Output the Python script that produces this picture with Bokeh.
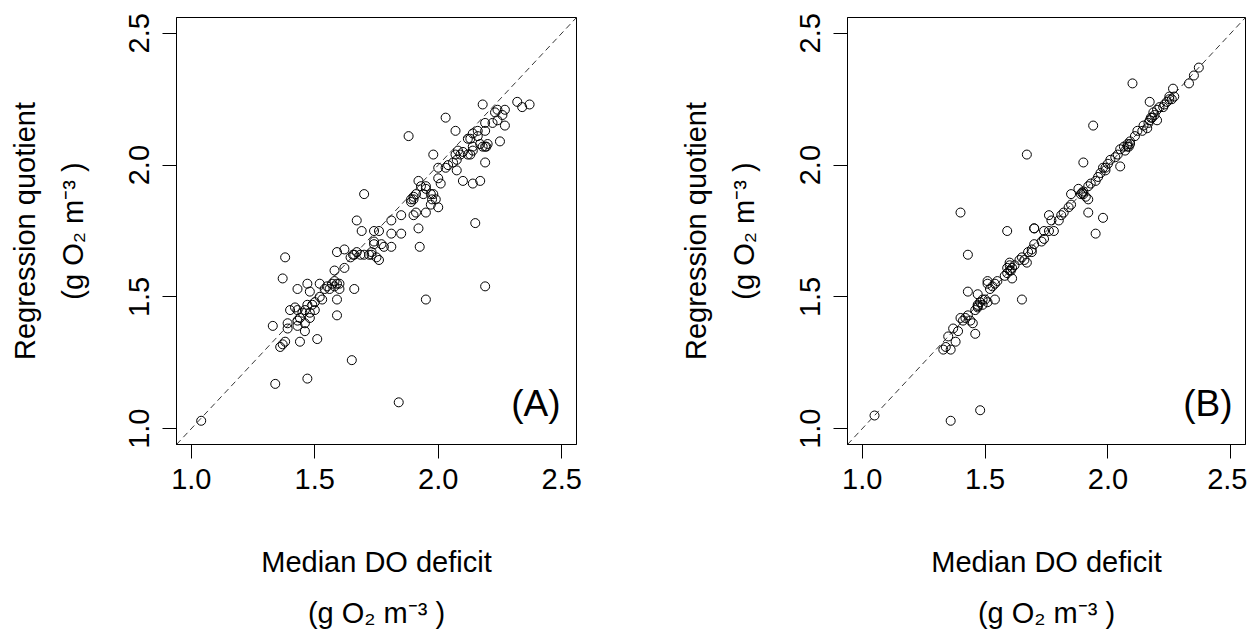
import math
from bokeh.plotting import figure
from bokeh.models import Range1d, FixedTicker, PrintfTickFormatter, Slope, Label
from bokeh.layouts import row
from bokeh.embed import file_html
from bokeh.resources import INLINE

# ---------------- data ----------------
TICKS = [1.0, 1.5, 2.0, 2.5]

A_x = [1.04, 1.34, 1.47, 1.65, 1.84, 1.95, 2.19, 2.15, 1.38, 1.37,
       1.33, 1.37, 1.38, 1.36, 1.39, 1.39, 1.43, 1.44, 1.46, 1.51,
       1.40, 1.43, 1.44, 1.43, 1.47, 1.48, 1.46, 1.45, 1.50, 1.50,
       1.53, 1.54, 1.55, 1.43, 1.47, 1.48, 1.52, 1.58, 1.59, 1.58,
       1.60, 1.59, 1.59, 1.66, 1.58, 1.62, 1.59, 1.62, 1.645, 1.66,
       1.67, 1.685, 1.70, 1.73, 1.75, 1.74, 1.46, 1.49, 1.52, 1.56,
       1.57, 1.60, 1.42, 1.48, 1.70, 1.67, 1.69, 1.74, 1.76, 1.81,
       1.85, 1.81, 1.81, 1.78, 1.77, 1.74, 1.73, 1.76, 1.72, 1.92,
       1.925, 1.85, 1.90, 1.91, 1.97, 2.00, 1.95, 1.90, 1.89, 1.91,
       1.89, 1.94, 1.92, 1.93, 1.95, 1.95, 1.97, 1.98, 1.99, 1.975,
       1.88, 2.03, 1.98, 2.00, 2.03, 2.04, 2.06, 2.075, 2.00, 2.01,
       2.10, 2.14, 2.17, 2.19, 2.08, 2.07, 2.075, 2.09, 2.10, 2.12,
       2.13, 2.14, 2.14, 2.17, 2.19, 2.18, 2.20, 2.25, 2.12, 2.13,
       2.16, 2.14, 2.16, 2.19, 2.07, 2.19, 2.22, 2.24, 2.27, 2.23,
       2.24, 2.26, 2.27, 2.18, 2.32, 2.34, 2.37, 1.90, 2.195, 1.655]
A_y = [1.03, 1.17, 1.19, 1.26, 1.10, 1.49, 1.54, 1.78, 1.65, 1.57,
       1.39, 1.32, 1.33, 1.31, 1.38, 1.40, 1.39, 1.33, 1.37, 1.34,
       1.45, 1.45, 1.42, 1.41, 1.47, 1.42, 1.40, 1.44, 1.48, 1.45,
       1.49, 1.53, 1.54, 1.53, 1.55, 1.52, 1.55, 1.56, 1.55, 1.54,
       1.53, 1.49, 1.43, 1.53, 1.60, 1.61, 1.67, 1.68, 1.65, 1.66,
       1.67, 1.66, 1.66, 1.66, 1.65, 1.70, 1.45, 1.47, 1.50, 1.53,
       1.55, 1.55, 1.46, 1.44, 1.89, 1.79, 1.75, 1.75, 1.75, 1.79,
       1.74, 1.74, 1.69, 1.69, 1.70, 1.71, 1.67, 1.64, 1.66, 1.76,
       1.69, 1.81, 1.81, 1.82, 1.85, 1.84, 1.82, 1.88, 1.87, 1.89,
       1.86, 1.89, 1.94, 1.92, 1.92, 1.91, 1.89, 1.89, 1.87, 1.87,
       2.11, 2.18, 2.04, 1.99, 1.99, 2.00, 2.01, 1.98, 1.95, 1.93,
       1.94, 1.93, 1.94, 2.01, 2.055, 2.04, 2.02, 2.04, 2.05, 2.04,
       2.04, 2.07, 2.055, 2.08, 2.07, 2.07, 2.08, 2.09, 2.10, 2.10,
       2.13, 2.12, 2.11, 2.13, 2.13, 2.16, 2.16, 2.17, 2.15, 2.20,
       2.21, 2.19, 2.21, 2.23, 2.24, 2.22, 2.23, 1.87, 2.07, 1.66]

B_x = [1.05, 1.36, 1.48, 1.40, 1.43, 1.65, 1.33, 1.36, 1.38, 1.35,
       1.37, 1.39, 1.46, 1.41, 1.42, 1.44, 1.43, 1.45, 1.40, 1.46,
       1.47, 1.47, 1.48, 1.49, 1.50, 1.51, 1.49, 1.43, 1.47, 1.51,
       1.51, 1.53, 1.54, 1.54, 1.52, 1.55, 1.58, 1.59, 1.60, 1.59,
       1.60, 1.61, 1.60, 1.61, 1.62, 1.64, 1.65, 1.66, 1.67, 1.69,
       1.70, 1.73, 1.70, 1.59, 1.675, 1.69, 1.74, 1.74, 1.76, 1.78,
       1.77, 1.76, 1.80, 1.81, 1.82, 1.84, 1.85, 1.88, 1.89, 1.90,
       1.90, 1.91, 1.92, 1.92, 1.93, 1.95, 1.96, 1.97, 1.98, 1.99,
       2.00, 2.01, 2.03, 2.04, 2.05, 2.07, 2.065, 2.08, 2.085, 2.08,
       2.09, 2.11, 2.12, 2.14, 2.16, 2.145, 2.165, 2.17, 2.20, 2.18,
       2.19, 2.185, 2.20, 2.225, 2.26, 2.24, 2.27, 2.25, 2.265, 2.33,
       2.35, 2.37, 1.85, 1.92, 1.98, 1.95, 1.90, 1.94, 2.10, 2.17,
       1.67, 1.70, 2.05, 1.47, 1.605, 1.895, 2.09, 2.175, 2.25, 1.99,
       2.23, 2.21, 1.34]
B_y = [1.05, 1.03, 1.07, 1.82, 1.66, 1.49, 1.30, 1.30, 1.33, 1.35,
       1.38, 1.37, 1.36, 1.41, 1.42, 1.41, 1.43, 1.40, 1.42, 1.45,
       1.47, 1.46, 1.48, 1.47, 1.49, 1.48, 1.49, 1.52, 1.51, 1.56,
       1.55, 1.54, 1.55, 1.49, 1.53, 1.56, 1.58, 1.59, 1.60, 1.61,
       1.62, 1.57, 1.63, 1.61, 1.62, 1.64, 1.65, 1.64, 1.63, 1.67,
       1.70, 1.71, 1.76, 1.75, 1.67, 1.68, 1.72, 1.75, 1.75, 1.75,
       1.79, 1.81, 1.79, 1.81, 1.82, 1.84, 1.85, 1.91, 1.89, 1.90,
       1.89, 1.88, 1.87, 1.92, 1.93, 1.94, 1.955, 1.97, 1.99, 1.99,
       2.005, 2.02, 2.03, 2.04, 2.06, 2.055, 2.07, 2.08, 2.07, 2.07,
       2.09, 2.11, 2.13, 2.13, 2.14, 2.15, 2.16, 2.17, 2.17, 2.18,
       2.19, 2.20, 2.21, 2.22, 2.25, 2.24, 2.26, 2.26, 2.29, 2.31,
       2.34, 2.37, 1.89, 1.82, 1.80, 1.74, 2.01, 2.15, 2.31, 2.24,
       2.04, 1.76, 1.995, 1.465, 1.60, 1.895, 2.08, 2.18, 2.25, 1.98,
       2.23, 2.22, 1.31]

X_LABEL = "Median DO deficit\n(g O\u2082 m\u207b\u00b3 )"
Y_LABEL = "Regression quotient\n(g O\u2082 m\u207b\u00b3 )"
PANELS = ["(A)", "(B)"]

# ---------------- styling ----------------
FONT = "Liberation Sans"
MAIN = 29
H = 631
TOP = 17
FRAME_H = 428


def make_panel(xs, ys, tag, width, mbl, mbr, fw):
    p = figure(width=width, height=H, output_backend="svg", toolbar_location=None,
               x_range=Range1d(0.94, 2.56), y_range=Range1d(0.94, 2.56),
               min_border_left=mbl, min_border_right=mbr,
               min_border_top=TOP, min_border_bottom=H - TOP - FRAME_H)
    p.grid.visible = False
    p.background_fill_color = "white"
    p.border_fill_color = "white"
    p.outline_line_color = "black"
    p.outline_line_alpha = 1.0
    p.outline_line_width = 1
    for ax in (p.xaxis[0], p.yaxis[0]):
        ax.ticker = FixedTicker(ticks=TICKS)
        ax.formatter = PrintfTickFormatter(format="%.1f")
        ax.major_tick_out = 14
        ax.major_tick_in = 0
        ax.minor_tick_out = 0
        ax.minor_tick_in = 0
        ax.axis_line_color = "black"
        ax.major_tick_line_color = "black"
        ax.major_label_text_font = FONT
        ax.major_label_text_font_size = f"{MAIN}px"
        ax.major_label_text_color = "black"
        ax.axis_label_text_font = FONT
        ax.axis_label_text_font_size = f"{MAIN}px"
        ax.axis_label_text_font_style = "normal"
        ax.axis_label_text_color = "black"
    p.xaxis[0].major_label_standoff = 10
    p.yaxis[0].major_label_standoff = 13
    p.yaxis[0].major_label_orientation = "vertical"

    p.xaxis[0].axis_label = X_LABEL
    p.xaxis[0].axis_label_standoff = 54
    p.xaxis[0].axis_label_text_line_height = 1.6
    p.yaxis[0].axis_label = Y_LABEL
    p.yaxis[0].axis_label_standoff = 38
    p.yaxis[0].axis_label_text_line_height = 1.5

    p.add_layout(Slope(gradient=1, y_intercept=0, line_color="black",
                       line_width=0.8, line_dash="6 4"))
    p.scatter(xs, ys, marker="circle", size=9, fill_color=None,
              line_color="black", line_width=1)

    p.add_layout(Label(x=fw - 16, y=41, x_units="screen", y_units="screen",
                       text=tag, text_align="right", text_baseline="alphabetic",
                       text_font=FONT, text_font_size="37px", text_color="black"))
    return p


pA = make_panel(A_x, A_y, PANELS[0], 676, 176, 100, 400)
pB = make_panel(B_x, B_y, PANELS[1], 571, 168, 2, 401)

layout = row(pA, pB)
open("out.html", "w").write(file_html(layout, INLINE))
